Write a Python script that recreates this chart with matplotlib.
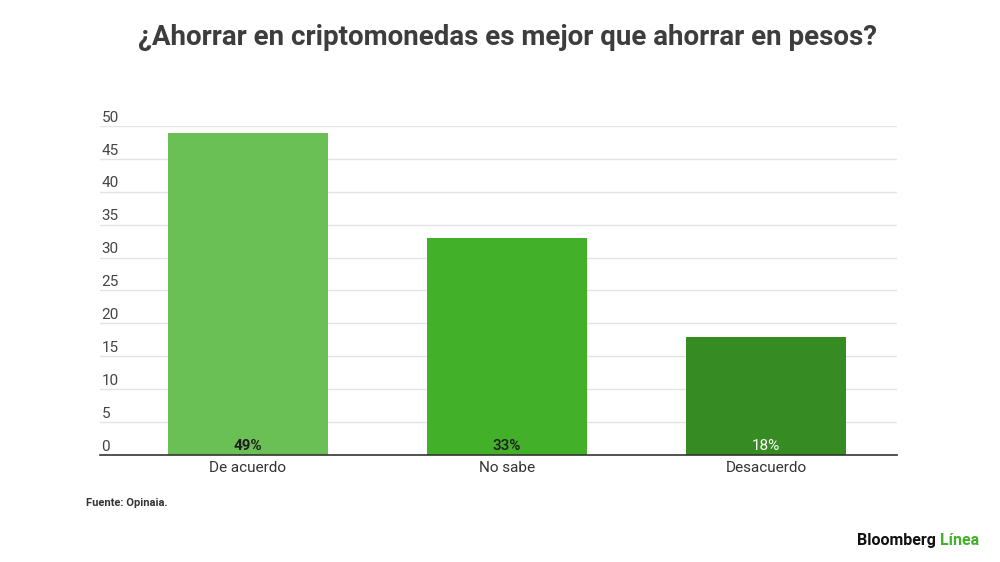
import matplotlib.pyplot as plt
import matplotlib.transforms as mtransforms

plt.rcParams["font.family"] = ["Roboto", "DejaVu Sans"]

title = "¿Ahorrar en criptomonedas es mejor que ahorrar en pesos?"
categories = ["De acuerdo", "No sabe", "Desacuerdo"]
values = [49, 33, 18]
value_labels = ["49%", "33%", "18%"]
bar_colors = ["#6abf55", "#43b02a", "#368c22"]
label_colors = ["#1e1e1e", "#1e1e1e", "#ffffff"]
label_weights = ["bold", "medium", "normal"]
y_ticks = [0, 5, 10, 15, 20, 25, 30, 35, 40, 45, 50]
source = "Fuente: Opinaia."


def main():
    fig = plt.figure(figsize=(10, 5.62), dpi=100)
    ax = fig.add_axes([0.10, 0.1904, 0.797, 0.5854])

    x = range(len(categories))
    ax.bar(x, values, width=0.618, color=bar_colors, zorder=2)
    # leave room on the left for the tick labels inside the plot area
    ax.set_xlim(-0.571, 2.506)
    ax.set_ylim(0, 50)

    # gridlines with labels sitting above them, left aligned
    trans = mtransforms.blended_transform_factory(ax.transAxes, ax.transData)
    for t in y_ticks:
        if t > 0:
            ax.axhline(t, color="#e3e3e3", linewidth=1, zorder=1)
        ax.text(0.002, t + 0.2, str(t), transform=trans, ha="left",
                va="bottom", fontsize=11, color="#444444")

    for i, (v, lab) in enumerate(zip(values, value_labels)):
        ax.text(i, 0.3, lab, ha="center", va="bottom", fontsize=11,
                color=label_colors[i], fontweight=label_weights[i], zorder=3)

    ax.set_yticks([])
    ax.set_xticks(list(x))
    ax.set_xticklabels(categories, fontsize=11, color="#333333")
    ax.tick_params(axis="x", length=0, pad=4)
    for side in ["top", "right", "left"]:
        ax.spines[side].set_visible(False)
    ax.spines["bottom"].set_color("#333333")
    ax.spines["bottom"].set_linewidth(1.2)
    ax.spines["bottom"].set_zorder(4)

    fig.text(0.507, 0.933, title, ha="center", va="center", fontsize=20,
             fontweight="bold", color="#3d3d3d")
    fig.text(0.086, 0.105, source, ha="left", va="center", fontsize=8,
             fontweight="bold", color="#333333")

    brand = fig.text(0.857, 0.025, "Bloomberg", ha="left", va="bottom",
                     fontsize=11.5, fontweight="bold", color="#111111")
    ax.annotate(" Línea", xy=(1, 0), xycoords=brand, ha="left", va="bottom",
                fontsize=11.5, fontweight="bold", color="#43b02a")

    fig.savefig("out.png", dpi=100)
    plt.close(fig)


if __name__ == "__main__":
    main()
